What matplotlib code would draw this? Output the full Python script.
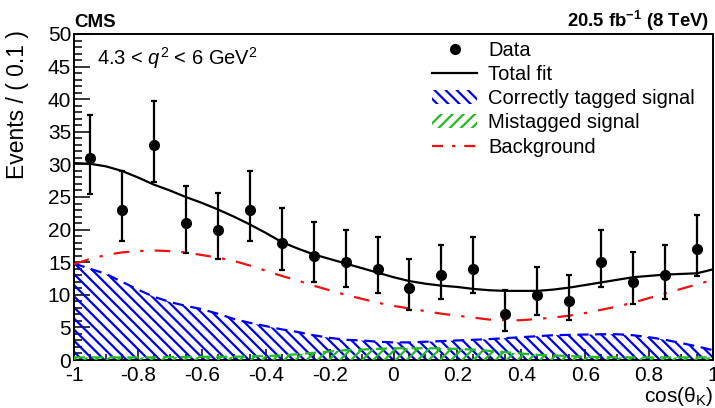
import numpy as np
import matplotlib
matplotlib.use("Agg")
import matplotlib.pyplot as plt
from matplotlib.patches import Patch
from matplotlib.lines import Line2D

# ---------------- data ----------------
bin_centers = [-0.95, -0.85, -0.75, -0.65, -0.55, -0.45, -0.35, -0.25, -0.15, -0.05,
               0.05, 0.15, 0.25, 0.35, 0.45, 0.55, 0.65, 0.75, 0.85, 0.95]
data_counts = [31, 23, 33, 21, 20, 23, 18, 16, 15, 14,
               11, 13, 14, 7, 10, 9, 15, 12, 13, 17]
err_low = [5.53, 4.78, 5.71, 4.56, 4.45, 4.78, 4.22, 3.97, 3.84, 3.71,
           3.27, 3.57, 3.71, 2.58, 3.11, 2.94, 3.84, 3.42, 3.57, 4.10]
err_high = [6.63, 5.95, 6.80, 5.73, 5.62, 5.95, 5.38, 5.12, 4.99, 4.85,
            4.42, 4.71, 4.85, 3.77, 4.27, 4.11, 4.99, 4.57, 4.71, 5.25]

curve_x = [-1.00, -0.95, -0.90, -0.85, -0.80, -0.75, -0.70, -0.65, -0.60, -0.55,
           -0.50, -0.45, -0.40, -0.35, -0.30, -0.25, -0.20, -0.15, -0.10, -0.05,
           0.00, 0.05, 0.10, 0.15, 0.20, 0.25, 0.30, 0.35, 0.40, 0.45,
           0.50, 0.55, 0.60, 0.65, 0.70, 0.75, 0.80, 0.85, 0.90, 0.95, 1.00]
total_fit = [30.2, 30.1, 29.7, 29.0, 28.0, 26.9, 26.0, 25.0, 24.1, 23.1,
             22.0, 20.8, 19.5, 18.1, 17.1, 16.2, 15.5, 14.8, 14.1, 13.4,
             12.7, 12.1, 11.7, 11.4, 11.2, 10.9, 10.7, 10.6, 10.6, 10.6,
             10.8, 11.1, 11.5, 11.9, 12.3, 12.7, 12.9, 13.1, 13.2, 13.3, 13.9]
background = [14.7, 15.5, 16.1, 16.5, 16.7, 16.8, 16.7, 16.5, 16.1, 15.7,
              15.2, 14.5, 13.7, 12.9, 12.2, 11.4, 10.7, 10.0, 9.4, 8.8,
              8.3, 7.9, 7.5, 7.1, 6.8, 6.5, 6.2, 6.1, 6.1, 6.3,
              6.5, 6.8, 7.2, 7.7, 8.2, 8.8, 9.5, 10.2, 10.9, 11.6, 12.3]
correct_sig = [14.8, 14.0, 13.2, 12.0, 10.8, 9.7, 8.9, 8.3, 7.8, 7.1,
               6.3, 5.7, 5.2, 4.7, 4.3, 3.8, 3.4, 3.1, 3.0, 2.8,
               2.7, 2.7, 2.8, 2.9, 3.0, 3.1, 3.2, 3.35, 3.5, 3.65,
               3.8, 3.85, 3.9, 3.95, 3.95, 3.8, 3.5, 3.1, 2.6, 2.1, 1.5]
mistag_sig = [0.4, 0.4, 0.4, 0.4, 0.4, 0.4, 0.45, 0.45, 0.5, 0.5,
              0.5, 0.55, 0.6, 0.7, 0.9, 1.1, 1.3, 1.5, 1.6, 1.7,
              1.8, 1.8, 1.8, 1.8, 1.7, 1.6, 1.4, 1.2, 1.0, 0.8,
              0.7, 0.6, 0.5, 0.45, 0.4, 0.4, 0.4, 0.4, 0.4, 0.4, 0.4]

x_ticks = [-1, -0.8, -0.6, -0.4, -0.2, 0, 0.2, 0.4, 0.6, 0.8, 1]
x_ticklabels = ["-1", "-0.8", "-0.6", "-0.4", "-0.2", "0", "0.2", "0.4", "0.6", "0.8", "1"]
y_ticks = [0, 5, 10, 15, 20, 25, 30, 35, 40, 45, 50]

# ---------------- style ----------------
plt.rcParams['font.family'] = ['Liberation Sans', 'DejaVu Sans']
plt.rcParams['mathtext.fontset'] = 'custom'
plt.rcParams['mathtext.rm'] = 'Liberation Sans'
plt.rcParams['mathtext.it'] = 'Liberation Sans:italic'
plt.rcParams['mathtext.bf'] = 'Liberation Sans:bold'
plt.rcParams['hatch.linewidth'] = 1.6

BLUE = '#0000ee'
GREEN = '#22bb22'
RED = '#ee1111'

fig = plt.figure(figsize=(7.15, 4.08), dpi=100)
ax = fig.add_axes([74/715, 48/408, (713-74)/715, (360-34)/408])

# correctly tagged signal
ax.fill_between(curve_x, 0, correct_sig, facecolor='none', edgecolor=BLUE,
                hatch='\\\\\\', linewidth=0, zorder=2)
ax.plot(curve_x, correct_sig, color=BLUE, lw=1.6, ls=(0, (5, 3)), zorder=3)
# mistagged signal
ax.fill_between(curve_x, 0, mistag_sig, facecolor='none', edgecolor=GREEN,
                hatch='///', linewidth=0, zorder=3)
ax.plot(curve_x, mistag_sig, color=GREEN, lw=1.6, ls=(0, (5, 3)), zorder=4)
# background
ax.plot(curve_x, background, color=RED, lw=1.6, ls=(0, (7, 5, 1.5, 5)), zorder=4)
# total fit
ax.plot(curve_x, total_fit, color='black', lw=1.6, zorder=5)
# data
ax.errorbar(bin_centers, data_counts, yerr=[err_low, err_high], fmt='o', color='black',
            ms=7, elinewidth=1.6, capsize=2.2, capthick=1.6, zorder=6)

ax.set_xlim(-1, 1)
ax.set_ylim(0, 50)
ax.set_xticks(x_ticks)
ax.set_xticklabels(x_ticklabels)
ax.set_yticks(y_ticks)
ax.xaxis.set_minor_locator(matplotlib.ticker.MultipleLocator(0.05))
ax.yaxis.set_minor_locator(matplotlib.ticker.MultipleLocator(1))
ax.tick_params(axis='both', which='both', direction='in', labelsize=15, width=1.1)
ax.tick_params(axis='y', which='major', length=11.5, pad=2)
ax.tick_params(axis='y', which='minor', length=5.8)
ax.tick_params(axis='x', which='major', length=8, pad=4.5)
ax.tick_params(axis='x', which='minor', length=4)
for sp in ax.spines.values():
    sp.set_linewidth(1.4)

fig.text(18/715, 1 - 30/408, 'Events / ( 0.1 )', fontsize=16.5, rotation=90,
         ha='center', va='top')
fig.text(713/715, 1 - 401.5/408, r'cos($\mathregular{\theta_{K}}$)', fontsize=15,
         ha='right', va='baseline')

fig.text(74/715, 1 - 27/408, 'CMS', fontsize=13.5, fontweight='bold', ha='left', va='baseline')
fig.text(709/715, 1 - 27/408, r'20.5 fb$^{\mathbf{-1}}$ (8 TeV)', fontsize=13.3,
         fontweight='bold', ha='right', va='baseline')
ax.text(0.036, 0.925, r'4.3 < $q^{2}$ < 6 GeV$^{2}$', transform=ax.transAxes,
        fontsize=14.5, ha='left', va='center')

handles = [
    Line2D([], [], color='black', marker='o', ms=7, ls='none'),
    Line2D([], [], color='black', lw=1.6),
    Patch(facecolor='none', edgecolor=BLUE, hatch='\\\\\\', linewidth=0),
    Patch(facecolor='none', edgecolor=GREEN, hatch='///', linewidth=0),
    Line2D([], [], color=RED, lw=1.6, ls=(0, (5, 4, 1.5, 4))),
]
labels = ['Data', 'Total fit', 'Correctly tagged signal', 'Mistagged signal', 'Background']
leg = ax.legend(handles, labels, loc='upper left', bbox_to_anchor=(0.548, 1.004),
                frameon=False, fontsize=14.5, handlelength=2.24, handletextpad=0.55,
                labelspacing=0.26, borderaxespad=0)

fig.savefig('out.png', dpi=100)
